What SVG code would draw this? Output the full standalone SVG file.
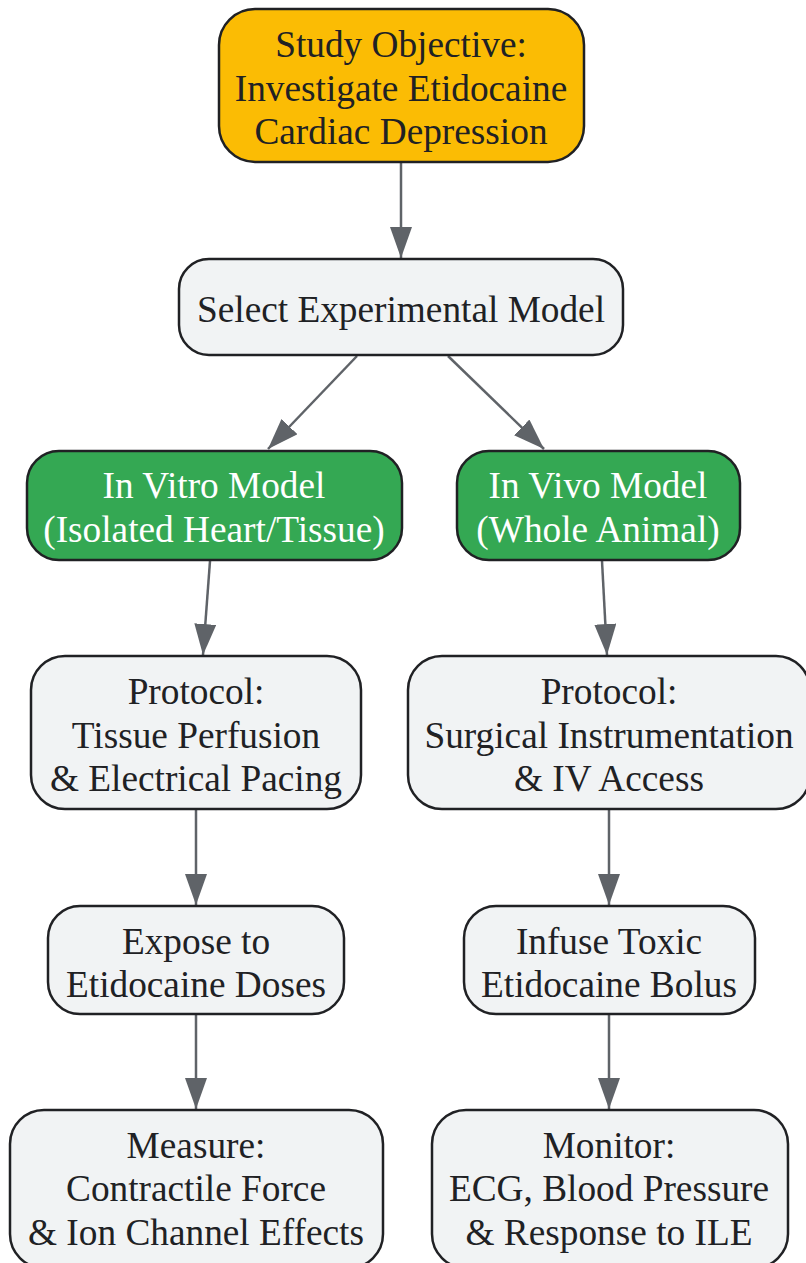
<svg xmlns="http://www.w3.org/2000/svg" width="806" height="1263" viewBox="0 0 806 1263">
<style>
.n{stroke:#202124;stroke-width:2.5}
.g{fill:#f1f3f4}
.y{fill:#fbbc04}
.gr{fill:#34a853}
text{font-family:"Liberation Serif","Times New Roman",serif;font-size:37.3px;text-anchor:middle;fill:#202124}
.w{fill:#ffffff}
.e{stroke:#5f6368;stroke-width:2.5;fill:none;marker-end:url(#ah)}
</style>
<defs>
<marker id="ah" viewBox="0 0 31 22" refX="31" refY="11" markerWidth="31" markerHeight="22" markerUnits="userSpaceOnUse" orient="auto">
<path d="M0,0 L31,11 L0,22 z" fill="#5f6368"/>
</marker>
</defs>
<rect width="806" height="1263" fill="#ffffff"/>
<g id="connectors">
<line class="e" x1="401" y1="162" x2="401" y2="258"/>
<line class="e" x1="357" y1="356" x2="268" y2="449"/>
<line class="e" x1="448" y1="356" x2="544" y2="449"/>
<line class="e" x1="210" y1="561" x2="203" y2="655"/>
<line class="e" x1="602" y1="561" x2="607" y2="655"/>
<line class="e" x1="196" y1="810" x2="196" y2="905"/>
<line class="e" x1="609" y1="810" x2="609" y2="905"/>
<line class="e" x1="196" y1="1015" x2="196" y2="1109"/>
<line class="e" x1="609" y1="1015" x2="609" y2="1109"/>
</g>
<g id="objective">
<rect class="n y" x="219" y="9" width="365" height="153" rx="36"/>
<text x="401" y="57">Study Objective:</text>
<text x="401" y="101">Investigate Etidocaine</text>
<text x="401" y="144">Cardiac Depression</text>
</g>
<g id="select">
<rect class="n g" x="179" y="259" width="444" height="96" rx="30"/>
<text x="401" y="322">Select Experimental Model</text>
</g>
<g id="invitro">
<rect class="n gr" x="27" y="451" width="375" height="109" rx="32"/>
<text class="w" x="214" y="498">In Vitro Model</text>
<text class="w" x="214" y="542">(Isolated Heart/Tissue)</text>
</g>
<g id="invivo">
<rect class="n gr" x="457" y="451" width="283" height="109" rx="32"/>
<text class="w" x="598" y="498">In Vivo Model</text>
<text class="w" x="598" y="542">(Whole Animal)</text>
</g>
<g id="protocolL">
<rect class="n g" x="31" y="656" width="330" height="153" rx="34"/>
<text x="196" y="704">Protocol:</text>
<text x="196" y="748">Tissue Perfusion</text>
<text x="196" y="791">&amp; Electrical Pacing</text>
</g>
<g id="protocolR">
<rect class="n g" x="408" y="656" width="402" height="153" rx="34"/>
<text x="609" y="704">Protocol:</text>
<text x="609" y="748">Surgical Instrumentation</text>
<text x="609" y="791">&amp; IV Access</text>
</g>
<g id="expose">
<rect class="n g" x="48" y="906" width="296" height="108" rx="32"/>
<text x="196" y="954">Expose to</text>
<text x="196" y="997">Etidocaine Doses</text>
</g>
<g id="infuse">
<rect class="n g" x="464" y="906" width="291" height="108" rx="32"/>
<text x="609" y="954">Infuse Toxic</text>
<text x="609" y="997">Etidocaine Bolus</text>
</g>
<g id="measure">
<rect class="n g" x="10" y="1110" width="373" height="158" rx="34"/>
<text x="196" y="1158">Measure:</text>
<text x="196" y="1201">Contractile Force</text>
<text x="196" y="1245">&amp; Ion Channel Effects</text>
</g>
<g id="monitor">
<rect class="n g" x="432" y="1110" width="356" height="158" rx="34"/>
<text x="609" y="1158">Monitor:</text>
<text x="609" y="1201">ECG, Blood Pressure</text>
<text x="609" y="1245">&amp; Response to ILE</text>
</g>
</svg>
